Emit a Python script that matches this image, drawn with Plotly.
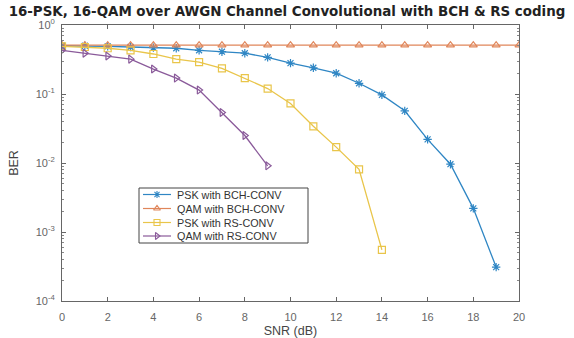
import plotly.graph_objects as go

snr = list(range(0, 21))
psk_bch = [0.50, 0.50, 0.49, 0.48, 0.47, 0.46, 0.43, 0.41, 0.39, 0.34, 0.28,
           0.24, 0.20, 0.143, 0.097, 0.057, 0.022, 0.0096, 0.0022, 0.00031]
qam_bch = [0.51] * 21
psk_rs = [0.49, 0.48, 0.46, 0.43, 0.38, 0.32, 0.29, 0.235, 0.17, 0.12, 0.073,
          0.034, 0.017, 0.0081, 0.00055]
qam_rs = [0.43, 0.39, 0.355, 0.32, 0.23, 0.17, 0.114, 0.054, 0.025, 0.0091]

names = ["PSK with BCH-CONV", "QAM with BCH-CONV", "PSK with RS-CONV", "QAM with RS-CONV"]
colors = ["#2f86c4", "#e0865a", "#e9c54a", "#8a5a9a"]
symbols = ["asterisk-open", "triangle-up-open", "square-open", "triangle-right-open"]
series = [psk_bch, qam_bch, psk_rs, qam_rs]

# plot area in pixels
L, R, T, B = 62, 519, 25, 301
W, H = 574, 338

fig = go.Figure()
for name, col, sym, ys in zip(names, colors, symbols, series):
    fig.add_trace(go.Scatter(
        x=snr[:len(ys)], y=ys, mode="lines+markers", name=name, showlegend=False,
        line=dict(color=col, width=1.3),
        marker=dict(symbol=sym, size=7, color=col, line=dict(color=col, width=1.2)),
    ))

# custom compact legend (MATLAB-like), drawn on an overlay pixel axis
leg_x0, leg_x1, leg_y0, leg_y1 = 139, 308, 188, 243
row_y = [194.5, 208.5, 222.5, 236.0]
fig.add_shape(type="rect", xref="x2", yref="y2", x0=leg_x0, x1=leg_x1, y0=leg_y0, y1=leg_y1,
              line=dict(color="#444444", width=1), fillcolor="white", layer="below")
for name, col, sym, ry in zip(names, colors, symbols, row_y):
    fig.add_trace(go.Scatter(
        x=[143, 157, 171], y=[ry, ry, ry], xaxis="x2", yaxis="y2", mode="lines",
        line=dict(color=col, width=1.2), showlegend=False, hoverinfo="skip"))
    fig.add_trace(go.Scatter(
        x=[157], y=[ry], xaxis="x2", yaxis="y2", mode="markers",
        marker=dict(symbol=sym, size=6, color=col, line=dict(color=col, width=1.1)),
        showlegend=False, hoverinfo="skip"))
    fig.add_annotation(x=175, y=ry, xref="x2", yref="y2", text=name, showarrow=False,
                       xanchor="left", yanchor="middle",
                       font=dict(size=10.8, color="#333333"))

ytv = [1e-4, 1e-3, 1e-2, 1e-1, 1e0]
ytt = ["10<sup>-4</sup>", "10<sup>-3</sup>", "10<sup>-2</sup>", "10<sup>-1</sup>", "10<sup>0</sup>"]
minor_vals = [m * 10 ** e for e in range(-4, 0) for m in range(2, 10)]

fig.update_layout(
    width=W, height=H,
    margin=dict(l=L, r=W - R, t=T, b=H - B),
    paper_bgcolor="white", plot_bgcolor="white",
    font=dict(family="Liberation Sans, Arial, sans-serif", color="#555555", size=10),
    title=dict(text="<b>16-PSK, 16-QAM over AWGN Channel Convolutional with BCH &amp; RS coding</b>",
               x=0.5, xanchor="center", y=1 - 11 / H, yanchor="middle",
               font=dict(family="DejaVu Sans, sans-serif", size=13.4, color="#222222")),
    xaxis=dict(range=[0, 20], tickvals=list(range(0, 21, 2)), showgrid=False, zeroline=False,
               showline=True, linecolor="#666666", linewidth=1, mirror="ticks", automargin=False,
               ticks="inside", ticklen=4, tickcolor="#666666", ticklabelstandoff=6,
               title=dict(text="SNR (dB)", font=dict(size=12.5, color="#444444"), standoff=4),
               tickfont=dict(size=11, color="#666666")),
    yaxis=dict(type="log", range=[-4, 0], tickvals=ytv, ticktext=ytt, showgrid=False,
               zeroline=False, showline=True, linecolor="#666666", linewidth=1, mirror="ticks",
               automargin=False,
               ticks="inside", ticklen=4, tickcolor="#666666", ticklabelstandoff=4,
               minor=dict(tickvals=minor_vals, ticks="inside", ticklen=2, tickcolor="#888888"),
               title=dict(text="BER", font=dict(size=12.5, color="#444444"), standoff=14),
               tickfont=dict(size=11, color="#666666")),
    xaxis2=dict(overlaying="x", range=[L, R], visible=False, fixedrange=True),
    yaxis2=dict(overlaying="y", range=[B, T], visible=False, fixedrange=True),
    showlegend=False,
)

fig.write_html("out.html")
